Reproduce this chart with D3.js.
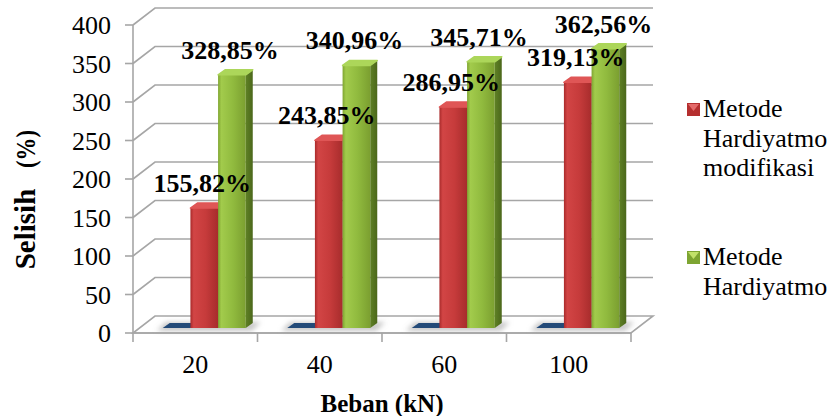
<!DOCTYPE html>
<html>
<head>
<meta charset="utf-8">
<script src="https://cdn.jsdelivr.net/npm/d3@7"></script>
<style>
  html, body { margin: 0; padding: 0; background: #fff; }
  svg { display: block; }
  text { font-family: "Liberation Serif", "DejaVu Serif", serif; fill: #000; }
</style>
</head>
<body>
<svg id="chart" width="831" height="416"></svg>
<script>
// ---- data ----
const categories = ["20", "40", "60", "100"];
const seriesNames = ["Metode Hardiyatmo awal", "Metode Hardiyatmo modifikasi", "Metode Hardiyatmo"];
const baseValues = [0, 0, 0, 0];
const modifiedValues = [155.82, 243.85, 286.95, 319.13];
const hardiyatmoValues = [328.85, 340.96, 345.71, 362.56];
const modifiedLabels = ["155,82%", "243,85%", "286,95%", "319,13%"];
const hardiyatmoLabels = ["328,85%", "340,96%", "345,71%", "362,56%"];
const yTicks = [0, 50, 100, 150, 200, 250, 300, 350, 400];
const xTitle = "Beban (kN)";
const yTitleWord = "Selisih";
const yTitleUnit = "(%)";

const series = [
  { name: seriesNames[0], values: baseValues, labels: null, key: "blue", legend: false },
  { name: seriesNames[1], values: modifiedValues, labels: modifiedLabels, key: "red", legend: true },
  { name: seriesNames[2], values: hardiyatmoValues, labels: hardiyatmoLabels, key: "green", legend: true }
];

// ---- layout ----
const svg = d3.select("#chart");
const front = { left: 133, right: 631, bottom: 333, top: 25 };
const floorDepth = { dx: 22, dy: -17 };   // wall / floor depth
const barShift = { dx: 9, dy: -5 };       // bars stand a little behind the front edge
const barDepth = { dx: 7, dy: -5 };       // thickness of each column

const x = d3.scaleBand().domain(categories).range([front.left, front.right]);
const barW = x.bandwidth() / 4.5;          // gap width 150%
const xs = d3.scaleBand().domain(series.map(s => s.key))
  .range([barW * 0.75, barW * 0.75 + barW * 3]);
const y = d3.scaleLinear().domain([0, 400]).range([front.bottom, front.top]);

const grid = "#a6a6a6";
const defs = svg.append("defs");

function hGrad(id, stops) {
  const g = defs.append("linearGradient").attr("id", id)
    .attr("x1", "0%").attr("x2", "100%").attr("y1", "0%").attr("y2", "0%");
  stops.forEach(([o, c]) => g.append("stop").attr("offset", o).attr("stop-color", c));
}
hGrad("redFront", [["0%", "#a92b2b"], ["12%", "#d24545"], ["55%", "#c63b3b"], ["100%", "#a72c2c"]]);
hGrad("greenFront", [["0%", "#7fa531"], ["12%", "#a2cb4c"], ["55%", "#90ba3e"], ["100%", "#7b9f30"]]);
hGrad("greenSide", [["0%", "#5f8125"], ["100%", "#4b671b"]]);
defs.append("filter").attr("id", "soft").attr("x", "-30%").attr("y", "-100%")
  .attr("width", "160%").attr("height", "300%")
  .append("feGaussianBlur").attr("stdDeviation", 2.5);

const colors = {
  blue: { front: "#244d7d", top: "#234a78", side: "#1b3a60" },
  red: { front: "url(#redFront)", top: "#df5656", side: "#8e2323" },
  green: { front: "url(#greenFront)", top: "#acd65a", side: "url(#greenSide)" }
};

const pts = a => a.map(p => p.join(",")).join(" ");

// ---- floor ----
svg.append("polygon")
  .attr("points", pts([
    [front.left, front.bottom], [front.right, front.bottom],
    [front.right + floorDepth.dx, front.bottom + floorDepth.dy],
    [front.left + floorDepth.dx, front.bottom + floorDepth.dy]
  ]))
  .attr("fill", "#ffffff").attr("stroke", grid).attr("stroke-width", 1.6);

// ---- gridlines on side and back wall ----
const gridG = svg.append("g");
yTicks.filter(t => t > 0).forEach(t => {
  const yy = y(t);
  gridG.append("polyline")
    .attr("points", pts([
      [front.left, yy],
      [front.left + floorDepth.dx, yy + floorDepth.dy],
      [front.right + floorDepth.dx, yy + floorDepth.dy]
    ]))
    .attr("fill", "none").attr("stroke", grid).attr("stroke-width", 1.6);
});

// ---- y axis ----
const yAxis = svg.append("g");
yAxis.append("line")
  .attr("x1", front.left).attr("x2", front.left)
  .attr("y1", y(400)).attr("y2", front.bottom)
  .attr("stroke", grid).attr("stroke-width", 1.6);
yTicks.forEach(t => {
  yAxis.append("line")
    .attr("x1", front.left - 8).attr("x2", front.left)
    .attr("y1", y(t)).attr("y2", y(t))
    .attr("stroke", grid).attr("stroke-width", 1.6);
  yAxis.append("text")
    .attr("x", 111).attr("y", y(t) + 9)
    .attr("text-anchor", "end").attr("font-size", 26)
    .text(t);
});

// ---- x axis ----
const xAxis = svg.append("g");
xAxis.append("line")
  .attr("x1", front.left).attr("x2", front.right)
  .attr("y1", front.bottom).attr("y2", front.bottom)
  .attr("stroke", grid).attr("stroke-width", 1.6);
const bounds = categories.map(c => x(c)).concat([x(categories[categories.length - 1]) + x.bandwidth()]);
bounds.forEach(b => {
  xAxis.append("line")
    .attr("x1", b).attr("x2", b)
    .attr("y1", front.bottom).attr("y2", front.bottom + 9)
    .attr("stroke", grid).attr("stroke-width", 1.6);
});
categories.forEach(c => {
  xAxis.append("text")
    .attr("x", x(c) + x.bandwidth() / 2).attr("y", 373)
    .attr("text-anchor", "middle").attr("font-size", 26)
    .text(c);
});

// ---- soft shadows on the floor ----
const shadowG = svg.append("g").attr("filter", "url(#soft)");
categories.forEach(c => {
  const x0 = x(c) + xs("blue") + barShift.dx;
  const x1 = x(c) + xs("green") + barW + barShift.dx;
  const yb = front.bottom + barShift.dy;
  shadowG.append("polygon")
    .attr("points", pts([
      [x0 - 6, yb + 3], [x1 + 6, yb + 3],
      [x1 + barDepth.dx + 8, yb + barDepth.dy - 1],
      [x0 + barDepth.dx - 4, yb + barDepth.dy - 1]
    ]))
    .attr("fill", "#9a9a9a").attr("opacity", 0.55);
});

// ---- columns ----
const barsG = svg.append("g");
categories.forEach((c, i) => {
  series.forEach(s => {
    const v = s.values[i];
    const col = colors[s.key];
    const xl = x(c) + xs(s.key) + barShift.dx;
    const xr = xl + barW;
    const yb = y(0) + barShift.dy;
    const yt = y(v) + barShift.dy;
    const g = barsG.append("g").attr("stroke-linejoin", "round");
    if (v > 0) {
      g.append("rect")
        .attr("x", xl).attr("y", yt)
        .attr("width", barW).attr("height", yb - yt)
        .attr("fill", col.front);
      g.append("polygon")
        .attr("points", pts([[xr, yt], [xr, yb], [xr + barDepth.dx, yb + barDepth.dy], [xr + barDepth.dx, yt + barDepth.dy]]))
        .attr("fill", col.side);
    }
    g.append("polygon")
      .attr("points", pts([[xl, yt], [xr, yt], [xr + barDepth.dx, yt + barDepth.dy], [xl + barDepth.dx, yt + barDepth.dy]]))
      .attr("fill", col.top)
      .attr("stroke", v > 0 ? col.top : "none").attr("stroke-width", 1.5);
  });
});

// ---- value labels ----
const labelG = svg.append("g");
categories.forEach((c, i) => {
  series.filter(s => s.labels).forEach(s => {
    const v = s.values[i];
    const cx = x(c) + xs(s.key) + barShift.dx + barW / 2 - 2;
    labelG.append("text")
      .attr("x", cx).attr("y", y(v) + barShift.dy - 16)
      .attr("text-anchor", "middle")
      .attr("font-size", 26).attr("font-weight", "bold")
      .text(s.labels[i]);
  });
});

// ---- axis titles ----
svg.append("text")
  .attr("x", (front.left + front.right) / 2).attr("y", 412)
  .attr("text-anchor", "middle").attr("font-size", 25).attr("font-weight", "bold")
  .text(xTitle);
svg.append("text")
  .attr("transform", "translate(35,229) rotate(-90)")
  .attr("text-anchor", "middle").attr("font-size", 29).attr("font-weight", "bold")
  .text(yTitleWord);
svg.append("text")
  .attr("transform", "translate(35,149) rotate(-90)")
  .attr("text-anchor", "middle").attr("font-size", 27).attr("font-weight", "bold")
  .attr("textLength", 38).attr("lengthAdjust", "spacingAndGlyphs")
  .text(yTitleUnit);

// ---- legend ----
const legendItems = [
  { key: "red", lines: ["Metode", "Hardiyatmo", "modifikasi"], top: 103, base: "#b52f2f", light: "#e46a6a" },
  { key: "green", lines: ["Metode", "Hardiyatmo"], top: 251, base: "#7ea532", light: "#c2e26a" }
];
const legend = svg.append("g");
legendItems.forEach(item => {
  const mx = 687, size = 13;
  legend.append("rect")
    .attr("x", mx).attr("y", item.top)
    .attr("width", size).attr("height", size)
    .attr("fill", item.base);
  legend.append("polygon")
    .attr("points", pts([[mx + 1, item.top + 1], [mx + size - 1, item.top + 1], [mx + size / 2, item.top + size * 0.62]]))
    .attr("fill", item.light);
  item.lines.forEach((ln, j) => {
    legend.append("text")
      .attr("x", 703).attr("y", item.top + 14 + j * 29.5)
      .attr("font-size", 26)
      .text(ln);
  });
});
</script>
</body>
</html>
